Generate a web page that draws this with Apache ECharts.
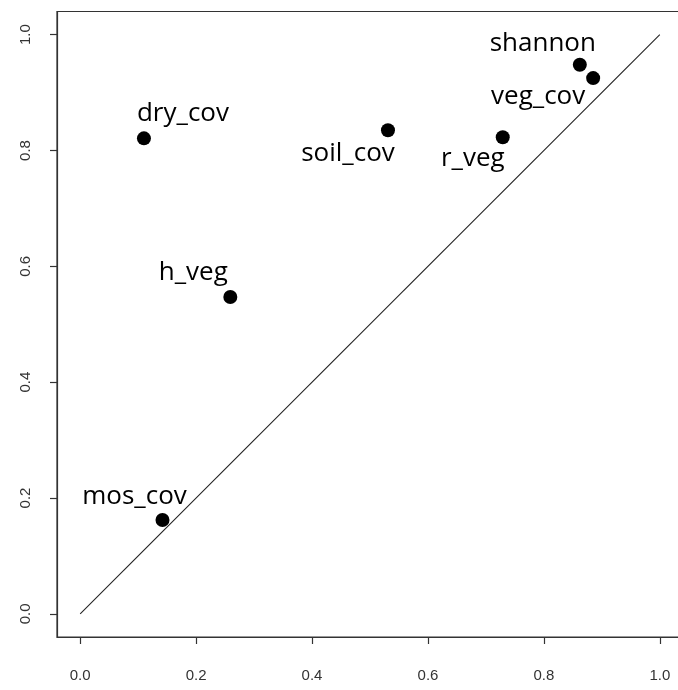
<!DOCTYPE html>
<html><head><meta charset="utf-8">
<script src="https://cdn.jsdelivr.net/npm/echarts@6/dist/echarts.min.js"></script>
<style>html,body{margin:0;padding:0;background:#fff;overflow:hidden}#c{width:678px;height:690px}</style>
</head><body><div id="c"></div>
<script>
const names = ["shannon","veg_cov","r_veg","soil_cov","dry_cov","h_veg","mos_cov"];
const xVals = [0.862, 0.885, 0.729, 0.531, 0.110, 0.259, 0.142];
const yVals = [0.948, 0.925, 0.823, 0.835, 0.821, 0.547, 0.162];
const tickVals = [0, 0.2, 0.4, 0.6, 0.8, 1.0];
const tickLabels = ["0.0","0.2","0.4","0.6","0.8","1.0"];
const refLine = [[0,0],[1,1]];
// label placement (layout, not data)
const labelOffsets = [[-37,-21],[-55,18],[-30,21],[-40,23],[39,-25],[-37,-24],[-28,-23]];

const chart = echarts.init(document.getElementById('c'), null, {renderer:'canvas'});
const fmt = v => { const i = tickVals.findIndex(t => Math.abs(t - v) < 1e-9); return i >= 0 ? tickLabels[i] : ''; };
const axisCommon = {
  type:'value', min:-0.04, max:1.04,
  splitLine:{show:false},
  axisLine:{show:true, onZero:false, lineStyle:{color:'#333', width:1.2}},
  axisTick:{show:true, inside:false, length:7, customValues:tickVals, lineStyle:{color:'#333', width:1.2}},
  axisLabel:{customValues:tickVals, formatter:fmt, color:'#333', fontFamily:'Liberation Sans', fontSize:15}
};
chart.setOption({
  animation:false,
  grid:{left:57, top:11.5, width:626, height:625.5, show:true, borderColor:'#333', borderWidth:1.2, backgroundColor:'transparent', containLabel:false, outerBoundsMode:'none'},
  xAxis:Object.assign({}, axisCommon, {axisLabel:Object.assign({}, axisCommon.axisLabel, {margin:31})}),
  yAxis:Object.assign({}, axisCommon, {axisLabel:Object.assign({}, axisCommon.axisLabel, {margin:24, rotate:90})}),
  series:[
    {type:'line', data:refLine, symbol:'none', lineStyle:{color:'#222', width:1.1}, silent:true},
    {type:'scatter', symbolSize:14, itemStyle:{color:'#000', opacity:1},
     data: names.map((n,i)=>({name:n, value:[xVals[i], yVals[i]],
       label:{show:true, formatter:n, position:'inside', offset:labelOffsets[i],
              color:'#000', fontFamily:'Open Sans', fontSize:26}}))}
  ]
});
</script></body></html>
